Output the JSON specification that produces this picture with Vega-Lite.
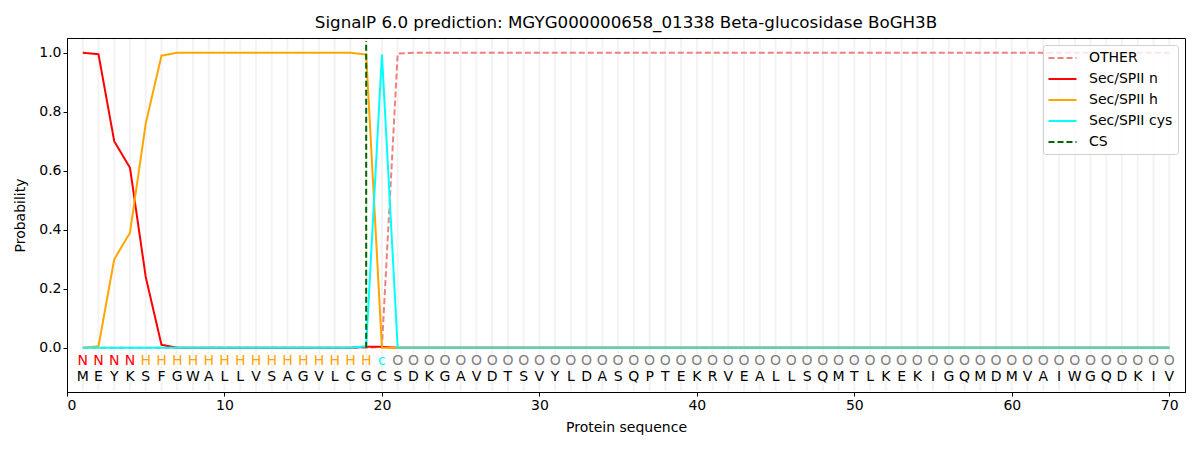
{
  "$schema": "https://vega.github.io/schema/vega-lite/v6.json",
  "width": 1118,
  "height": 354,
  "autosize": {"type": "none"},
  "padding": {"left": 67, "top": 38, "right": 15, "bottom": 58},
  "title": {
    "text": "SignalP 6.0 prediction: MGYG000000658_01338 Beta-glucosidase BoGH3B",
    "fontSize": 16.7,
    "fontWeight": "normal",
    "font": "DejaVu Sans",
    "color": "black",
    "offset": 6
  },
  "config": {
    "view": {"stroke": "black", "strokeWidth": 1},
    "font": "DejaVu Sans",
    "axis": {
      "labelFont": "DejaVu Sans",
      "titleFont": "DejaVu Sans",
      "labelFontSize": 14,
      "titleFontSize": 14,
      "titleFontWeight": "normal",
      "labelColor": "black",
      "titleColor": "black",
      "domainColor": "black",
      "tickColor": "black",
      "tickSize": 4,
      "grid": false
    },
    "legend": {
      "title": null,
      "orient": "top-right",
      "offset": 7,
      "symbolType": "M-2,0H2",
      "symbolSize": 196,
      "symbolOffset": 6.5,
      "symbolStrokeWidth": 2,
      "labelFontSize": 14,
      "labelFont": "DejaVu Sans",
      "labelColor": "black",
      "labelOffset": 18.5,
      "fillColor": "rgba(255,255,255,0.8)",
      "strokeColor": "#d0d0d0",
      "cornerRadius": 3,
      "padding": 5,
      "rowPadding": 6
    }
  },
  "data": {
    "values": [
      {"pos": 1, "aa": "M", "lab": "N", "OTHER": 0, "Sec/SPII n": 1.0, "Sec/SPII h": 0.0, "Sec/SPII cys": 0},
      {"pos": 2, "aa": "E", "lab": "N", "OTHER": 0, "Sec/SPII n": 0.995, "Sec/SPII h": 0.005, "Sec/SPII cys": 0},
      {"pos": 3, "aa": "Y", "lab": "N", "OTHER": 0, "Sec/SPII n": 0.70, "Sec/SPII h": 0.30, "Sec/SPII cys": 0},
      {"pos": 4, "aa": "K", "lab": "N", "OTHER": 0, "Sec/SPII n": 0.61, "Sec/SPII h": 0.39, "Sec/SPII cys": 0},
      {"pos": 5, "aa": "S", "lab": "H", "OTHER": 0, "Sec/SPII n": 0.24, "Sec/SPII h": 0.76, "Sec/SPII cys": 0},
      {"pos": 6, "aa": "F", "lab": "H", "OTHER": 0, "Sec/SPII n": 0.01, "Sec/SPII h": 0.99, "Sec/SPII cys": 0},
      {"pos": 7, "aa": "G", "lab": "H", "OTHER": 0, "Sec/SPII n": 0, "Sec/SPII h": 1.0, "Sec/SPII cys": 0},
      {"pos": 8, "aa": "W", "lab": "H", "OTHER": 0, "Sec/SPII n": 0, "Sec/SPII h": 1.0, "Sec/SPII cys": 0},
      {"pos": 9, "aa": "A", "lab": "H", "OTHER": 0, "Sec/SPII n": 0, "Sec/SPII h": 1.0, "Sec/SPII cys": 0},
      {"pos": 10, "aa": "L", "lab": "H", "OTHER": 0, "Sec/SPII n": 0, "Sec/SPII h": 1.0, "Sec/SPII cys": 0},
      {"pos": 11, "aa": "L", "lab": "H", "OTHER": 0, "Sec/SPII n": 0, "Sec/SPII h": 1.0, "Sec/SPII cys": 0},
      {"pos": 12, "aa": "V", "lab": "H", "OTHER": 0, "Sec/SPII n": 0, "Sec/SPII h": 1.0, "Sec/SPII cys": 0},
      {"pos": 13, "aa": "S", "lab": "H", "OTHER": 0, "Sec/SPII n": 0, "Sec/SPII h": 1.0, "Sec/SPII cys": 0},
      {"pos": 14, "aa": "A", "lab": "H", "OTHER": 0, "Sec/SPII n": 0, "Sec/SPII h": 1.0, "Sec/SPII cys": 0},
      {"pos": 15, "aa": "G", "lab": "H", "OTHER": 0, "Sec/SPII n": 0, "Sec/SPII h": 1.0, "Sec/SPII cys": 0},
      {"pos": 16, "aa": "V", "lab": "H", "OTHER": 0, "Sec/SPII n": 0, "Sec/SPII h": 1.0, "Sec/SPII cys": 0},
      {"pos": 17, "aa": "L", "lab": "H", "OTHER": 0, "Sec/SPII n": 0, "Sec/SPII h": 1.0, "Sec/SPII cys": 0},
      {"pos": 18, "aa": "C", "lab": "H", "OTHER": 0, "Sec/SPII n": 0, "Sec/SPII h": 1.0, "Sec/SPII cys": 0},
      {"pos": 19, "aa": "G", "lab": "H", "OTHER": 0, "Sec/SPII n": 0.003, "Sec/SPII h": 0.994, "Sec/SPII cys": 0.005},
      {"pos": 20, "aa": "C", "lab": "c", "OTHER": 0.003, "Sec/SPII n": 0.003, "Sec/SPII h": 0.0, "Sec/SPII cys": 0.994},
      {"pos": 21, "aa": "S", "lab": "O", "OTHER": 0.997, "Sec/SPII n": 0, "Sec/SPII h": 0, "Sec/SPII cys": 0, "rest": 0},
      {"pos": 22, "aa": "D", "lab": "O", "OTHER": 1.0, "Sec/SPII n": 0, "Sec/SPII h": 0, "Sec/SPII cys": 0, "rest": 0},
      {"pos": 23, "aa": "K", "lab": "O", "OTHER": 1.0, "Sec/SPII n": 0, "Sec/SPII h": 0, "Sec/SPII cys": 0, "rest": 0},
      {"pos": 24, "aa": "G", "lab": "O", "OTHER": 1.0, "Sec/SPII n": 0, "Sec/SPII h": 0, "Sec/SPII cys": 0, "rest": 0},
      {"pos": 25, "aa": "A", "lab": "O", "OTHER": 1.0, "Sec/SPII n": 0, "Sec/SPII h": 0, "Sec/SPII cys": 0, "rest": 0},
      {"pos": 26, "aa": "V", "lab": "O", "OTHER": 1.0, "Sec/SPII n": 0, "Sec/SPII h": 0, "Sec/SPII cys": 0, "rest": 0},
      {"pos": 27, "aa": "D", "lab": "O", "OTHER": 1.0, "Sec/SPII n": 0, "Sec/SPII h": 0, "Sec/SPII cys": 0, "rest": 0},
      {"pos": 28, "aa": "T", "lab": "O", "OTHER": 1.0, "Sec/SPII n": 0, "Sec/SPII h": 0, "Sec/SPII cys": 0, "rest": 0},
      {"pos": 29, "aa": "S", "lab": "O", "OTHER": 1.0, "Sec/SPII n": 0, "Sec/SPII h": 0, "Sec/SPII cys": 0, "rest": 0},
      {"pos": 30, "aa": "V", "lab": "O", "OTHER": 1.0, "Sec/SPII n": 0, "Sec/SPII h": 0, "Sec/SPII cys": 0, "rest": 0},
      {"pos": 31, "aa": "Y", "lab": "O", "OTHER": 1.0, "Sec/SPII n": 0, "Sec/SPII h": 0, "Sec/SPII cys": 0, "rest": 0},
      {"pos": 32, "aa": "L", "lab": "O", "OTHER": 1.0, "Sec/SPII n": 0, "Sec/SPII h": 0, "Sec/SPII cys": 0, "rest": 0},
      {"pos": 33, "aa": "D", "lab": "O", "OTHER": 1.0, "Sec/SPII n": 0, "Sec/SPII h": 0, "Sec/SPII cys": 0, "rest": 0},
      {"pos": 34, "aa": "A", "lab": "O", "OTHER": 1.0, "Sec/SPII n": 0, "Sec/SPII h": 0, "Sec/SPII cys": 0, "rest": 0},
      {"pos": 35, "aa": "S", "lab": "O", "OTHER": 1.0, "Sec/SPII n": 0, "Sec/SPII h": 0, "Sec/SPII cys": 0, "rest": 0},
      {"pos": 36, "aa": "Q", "lab": "O", "OTHER": 1.0, "Sec/SPII n": 0, "Sec/SPII h": 0, "Sec/SPII cys": 0, "rest": 0},
      {"pos": 37, "aa": "P", "lab": "O", "OTHER": 1.0, "Sec/SPII n": 0, "Sec/SPII h": 0, "Sec/SPII cys": 0, "rest": 0},
      {"pos": 38, "aa": "T", "lab": "O", "OTHER": 1.0, "Sec/SPII n": 0, "Sec/SPII h": 0, "Sec/SPII cys": 0, "rest": 0},
      {"pos": 39, "aa": "E", "lab": "O", "OTHER": 1.0, "Sec/SPII n": 0, "Sec/SPII h": 0, "Sec/SPII cys": 0, "rest": 0},
      {"pos": 40, "aa": "K", "lab": "O", "OTHER": 1.0, "Sec/SPII n": 0, "Sec/SPII h": 0, "Sec/SPII cys": 0, "rest": 0},
      {"pos": 41, "aa": "R", "lab": "O", "OTHER": 1.0, "Sec/SPII n": 0, "Sec/SPII h": 0, "Sec/SPII cys": 0, "rest": 0},
      {"pos": 42, "aa": "V", "lab": "O", "OTHER": 1.0, "Sec/SPII n": 0, "Sec/SPII h": 0, "Sec/SPII cys": 0, "rest": 0},
      {"pos": 43, "aa": "E", "lab": "O", "OTHER": 1.0, "Sec/SPII n": 0, "Sec/SPII h": 0, "Sec/SPII cys": 0, "rest": 0},
      {"pos": 44, "aa": "A", "lab": "O", "OTHER": 1.0, "Sec/SPII n": 0, "Sec/SPII h": 0, "Sec/SPII cys": 0, "rest": 0},
      {"pos": 45, "aa": "L", "lab": "O", "OTHER": 1.0, "Sec/SPII n": 0, "Sec/SPII h": 0, "Sec/SPII cys": 0, "rest": 0},
      {"pos": 46, "aa": "L", "lab": "O", "OTHER": 1.0, "Sec/SPII n": 0, "Sec/SPII h": 0, "Sec/SPII cys": 0, "rest": 0},
      {"pos": 47, "aa": "S", "lab": "O", "OTHER": 1.0, "Sec/SPII n": 0, "Sec/SPII h": 0, "Sec/SPII cys": 0, "rest": 0},
      {"pos": 48, "aa": "Q", "lab": "O", "OTHER": 1.0, "Sec/SPII n": 0, "Sec/SPII h": 0, "Sec/SPII cys": 0, "rest": 0},
      {"pos": 49, "aa": "M", "lab": "O", "OTHER": 1.0, "Sec/SPII n": 0, "Sec/SPII h": 0, "Sec/SPII cys": 0, "rest": 0},
      {"pos": 50, "aa": "T", "lab": "O", "OTHER": 1.0, "Sec/SPII n": 0, "Sec/SPII h": 0, "Sec/SPII cys": 0, "rest": 0},
      {"pos": 51, "aa": "L", "lab": "O", "OTHER": 1.0, "Sec/SPII n": 0, "Sec/SPII h": 0, "Sec/SPII cys": 0, "rest": 0},
      {"pos": 52, "aa": "K", "lab": "O", "OTHER": 1.0, "Sec/SPII n": 0, "Sec/SPII h": 0, "Sec/SPII cys": 0, "rest": 0},
      {"pos": 53, "aa": "E", "lab": "O", "OTHER": 1.0, "Sec/SPII n": 0, "Sec/SPII h": 0, "Sec/SPII cys": 0, "rest": 0},
      {"pos": 54, "aa": "K", "lab": "O", "OTHER": 1.0, "Sec/SPII n": 0, "Sec/SPII h": 0, "Sec/SPII cys": 0, "rest": 0},
      {"pos": 55, "aa": "I", "lab": "O", "OTHER": 1.0, "Sec/SPII n": 0, "Sec/SPII h": 0, "Sec/SPII cys": 0, "rest": 0},
      {"pos": 56, "aa": "G", "lab": "O", "OTHER": 1.0, "Sec/SPII n": 0, "Sec/SPII h": 0, "Sec/SPII cys": 0, "rest": 0},
      {"pos": 57, "aa": "Q", "lab": "O", "OTHER": 1.0, "Sec/SPII n": 0, "Sec/SPII h": 0, "Sec/SPII cys": 0, "rest": 0},
      {"pos": 58, "aa": "M", "lab": "O", "OTHER": 1.0, "Sec/SPII n": 0, "Sec/SPII h": 0, "Sec/SPII cys": 0, "rest": 0},
      {"pos": 59, "aa": "D", "lab": "O", "OTHER": 1.0, "Sec/SPII n": 0, "Sec/SPII h": 0, "Sec/SPII cys": 0, "rest": 0},
      {"pos": 60, "aa": "M", "lab": "O", "OTHER": 1.0, "Sec/SPII n": 0, "Sec/SPII h": 0, "Sec/SPII cys": 0, "rest": 0},
      {"pos": 61, "aa": "V", "lab": "O", "OTHER": 1.0, "Sec/SPII n": 0, "Sec/SPII h": 0, "Sec/SPII cys": 0, "rest": 0},
      {"pos": 62, "aa": "A", "lab": "O", "OTHER": 1.0, "Sec/SPII n": 0, "Sec/SPII h": 0, "Sec/SPII cys": 0, "rest": 0},
      {"pos": 63, "aa": "I", "lab": "O", "OTHER": 1.0, "Sec/SPII n": 0, "Sec/SPII h": 0, "Sec/SPII cys": 0, "rest": 0},
      {"pos": 64, "aa": "W", "lab": "O", "OTHER": 1.0, "Sec/SPII n": 0, "Sec/SPII h": 0, "Sec/SPII cys": 0, "rest": 0},
      {"pos": 65, "aa": "G", "lab": "O", "OTHER": 1.0, "Sec/SPII n": 0, "Sec/SPII h": 0, "Sec/SPII cys": 0, "rest": 0},
      {"pos": 66, "aa": "Q", "lab": "O", "OTHER": 1.0, "Sec/SPII n": 0, "Sec/SPII h": 0, "Sec/SPII cys": 0, "rest": 0},
      {"pos": 67, "aa": "D", "lab": "O", "OTHER": 1.0, "Sec/SPII n": 0, "Sec/SPII h": 0, "Sec/SPII cys": 0, "rest": 0},
      {"pos": 68, "aa": "K", "lab": "O", "OTHER": 1.0, "Sec/SPII n": 0, "Sec/SPII h": 0, "Sec/SPII cys": 0, "rest": 0},
      {"pos": 69, "aa": "I", "lab": "O", "OTHER": 1.0, "Sec/SPII n": 0, "Sec/SPII h": 0, "Sec/SPII cys": 0, "rest": 0},
      {"pos": 70, "aa": "V", "lab": "O", "OTHER": 1.0, "Sec/SPII n": 0, "Sec/SPII h": 0, "Sec/SPII cys": 0, "rest": 0}
    ]
  },
  "encoding": {
    "x": {
      "field": "pos",
      "type": "quantitative",
      "title": "Protein sequence",
      "scale": {"domain": [0, 71], "nice": false, "zero": false},
      "axis": {"values": [0, 10, 20, 30, 40, 50, 60, 70], "format": "d", "titlePadding": 8}
    }
  },
  "layer": [
    {
      "mark": {"type": "rule", "color": "#f3f3f3", "strokeWidth": 2},
      "encoding": {
        "y": {"datum": -0.147, "type": "quantitative"},
        "y2": {"datum": 1.047}
      }
    },
    {
      "transform": [
        {"fold": ["OTHER", "Sec/SPII n", "Sec/SPII h", "Sec/SPII cys", "rest"], "as": ["series", "prob"]}
      ],
      "mark": {"type": "line", "strokeWidth": 2, "clip": true},
      "encoding": {
        "y": {
          "field": "prob",
          "type": "quantitative",
          "title": "Probability",
          "scale": {"domain": [-0.15, 1.05], "nice": false, "zero": false},
          "axis": {"values": [0, 0.2, 0.4, 0.6, 0.8, 1.0], "format": ".1f", "titlePadding": 11}
        },
        "color": {
          "field": "series",
          "type": "nominal",
          "scale": {
            "domain": ["OTHER", "Sec/SPII n", "Sec/SPII h", "Sec/SPII cys", "CS", "rest"],
            "range": ["#f08080", "#ff0000", "#ffa500", "#00ffff", "#006400", "#5ccfb0"]
          },
          "legend": {"values": ["OTHER", "Sec/SPII n", "Sec/SPII h", "Sec/SPII cys", "CS"]}
        },
        "strokeDash": {
          "field": "series",
          "type": "nominal",
          "scale": {
            "domain": ["OTHER", "Sec/SPII n", "Sec/SPII h", "Sec/SPII cys", "CS", "rest"],
            "range": [[6, 3], [1, 0], [1, 0], [1, 0], [6, 3], [1, 0]]
          },
          "legend": {"values": ["OTHER", "Sec/SPII n", "Sec/SPII h", "Sec/SPII cys", "CS"]}
        }
      }
    },
    {
      "data": {"values": [{"pos": 19, "series": "CS", "lo": 0, "hi": 1.04}]},
      "mark": {"type": "rule", "strokeWidth": 2},
      "encoding": {
        "y": {"field": "lo", "type": "quantitative"},
        "y2": {"field": "hi"},
        "color": {"field": "series", "type": "nominal"},
        "strokeDash": {"field": "series", "type": "nominal"}
      }
    },
    {
      "mark": {"type": "text", "fontSize": 14, "font": "DejaVu Sans", "baseline": "middle", "align": "center"},
      "encoding": {
        "y": {"datum": -0.045, "type": "quantitative"},
        "text": {"field": "lab"},
        "color": {
          "condition": [
            {"test": "datum.lab === 'N'", "value": "#ff0000"},
            {"test": "datum.lab === 'H'", "value": "#ffa500"},
            {"test": "datum.lab === 'c'", "value": "#00ffff"}
          ],
          "value": "#808080"
        }
      }
    },
    {
      "mark": {"type": "text", "fontSize": 14, "font": "DejaVu Sans", "baseline": "middle", "align": "center", "color": "black"},
      "encoding": {
        "y": {"datum": -0.1, "type": "quantitative"},
        "text": {"field": "aa"}
      }
    }
  ]
}
